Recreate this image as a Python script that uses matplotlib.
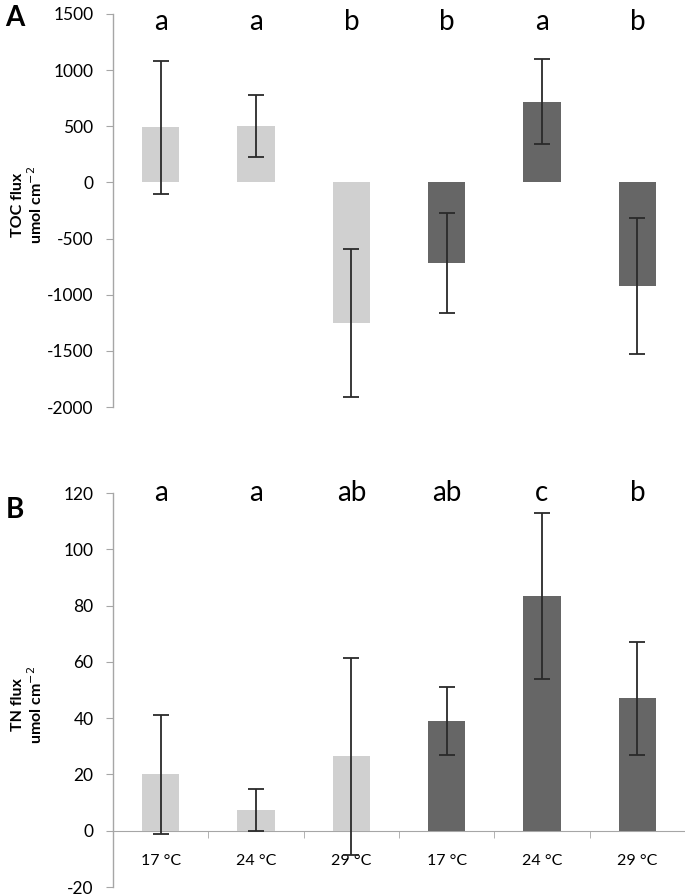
import numpy as np
import matplotlib.pyplot as plt
from matplotlib.ticker import FixedLocator

plt.rcParams['font.family'] = ['Lato', 'DejaVu Sans']
plt.rcParams['axes.unicode_minus'] = False

temps = ['17 °C', '24 °C', '29 °C', '17 °C', '24 °C', '29 °C']
bar_colors = ['#d0d0d0'] * 3 + ['#666666'] * 3

toc_mean = [490, 500, -1250, -720, 720, -920]
toc_err = [590, 275, 660, 445, 380, 605]
toc_letters = ['a', 'a', 'b', 'b', 'a', 'b']

tn_mean = [20, 7.3, 26.5, 39, 83.5, 47]
tn_err = [21, 7.5, 35, 12, 29.5, 20]
tn_letters = ['a', 'a', 'ab', 'ab', 'c', 'b']

spine_gray = '#a6a6a6'
x = np.arange(len(temps))

fig = plt.figure(figsize=(6.85, 8.96), dpi=100)
ax_a = fig.add_axes([113 / 685, 1 - 407 / 896, 572 / 685, 393 / 896])
ax_b = fig.add_axes([113 / 685, 1 - 887 / 896, 572 / 685, 394 / 896])


def draw_panel(ax, mean, err, letters, ylim, yticks, letter_y):
  ax.bar(x, mean, width=0.39, color=bar_colors, zorder=2)
  ax.errorbar(x, mean, yerr=err, fmt='none', ecolor='#2a2a2a', elinewidth=1.3,
              capsize=5.5, capthick=1.3, zorder=3)
  ax.set_xlim(-0.5, 5.5)
  ax.set_ylim(*ylim)
  ax.set_yticks(yticks)
  ax.tick_params(axis='y', direction='out', length=5, color=spine_gray,
                 labelsize=12.5, pad=9)
  for s in ['top', 'right']:
    ax.spines[s].set_visible(False)
  ax.spines['left'].set_color(spine_gray)
  ax.spines['left'].set_linewidth(1.0)
  for xi, lab in zip(x, letters):
    ax.text(xi, letter_y, lab, transform=ax.get_xaxis_transform(),
            ha='center', va='baseline', fontsize=20, clip_on=False)


# panel A: TOC
draw_panel(ax_a, toc_mean, toc_err, toc_letters, (-2000, 1500),
           np.arange(-2000, 1501, 500), 0.959)
ax_a.spines['bottom'].set_visible(False)
ax_a.set_xticks([])

# panel B: TN
draw_panel(ax_b, tn_mean, tn_err, tn_letters, (-20, 120),
           np.arange(-20, 121, 20), 0.980)
ax_b.spines['bottom'].set_position(('data', 0))
ax_b.spines['bottom'].set_color(spine_gray)
ax_b.spines['bottom'].set_zorder(1)
ax_b.set_xticks(x)
ax_b.set_xticklabels(temps)
ax_b.xaxis.set_minor_locator(FixedLocator(np.arange(-0.5, 6, 1.0)))
ax_b.tick_params(axis='x', which='major', length=0, labelsize=11.5, pad=17)
ax_b.tick_params(axis='x', which='minor', direction='out', length=5,
                 color=spine_gray)

fig.text(28 / 685, 1 - 205 / 896, 'TOC flux\numol cm$^{\\mathrm{-2}}$', rotation=90,
         ha='center', va='center', fontsize=11.5, fontweight='bold',
         multialignment='center', linespacing=1.1)
fig.text(28 / 685, 1 - 705 / 896, 'TN flux\numol cm$^{\\mathrm{-2}}$', rotation=90,
         ha='center', va='center', fontsize=11.5, fontweight='bold',
         multialignment='center', linespacing=1.1)

fig.text(15 / 685, 1 - 18 / 896, 'A', ha='center', va='center',
         fontsize=20, fontweight='bold')
fig.text(15 / 685, 1 - 510 / 896, 'B', ha='center', va='center',
         fontsize=20, fontweight='bold')

fig.savefig('out.png', dpi=100)
